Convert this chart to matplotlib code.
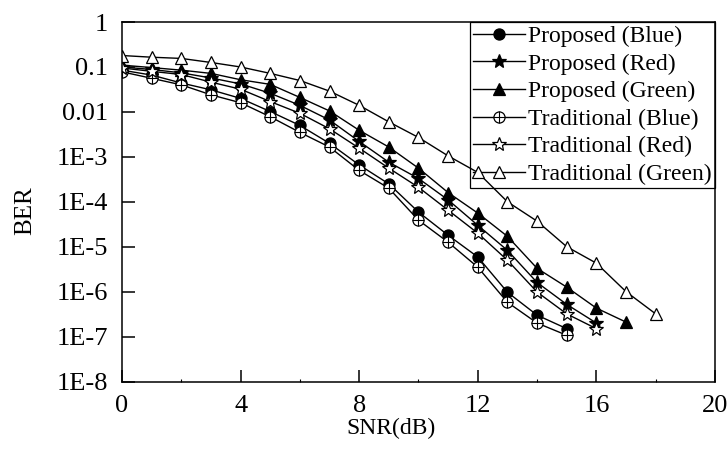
import numpy as np
import matplotlib
matplotlib.use('Agg')
import matplotlib.pyplot as plt
from matplotlib.legend_handler import HandlerTuple

plt.rcParams['font.family'] = ['Liberation Serif', 'DejaVu Serif']

# BER curves
snr_pb = np.arange(0, 16)
ber_pb = [0.085, 0.066, 0.044, 0.031, 0.02, 0.0102, 5.0e-3, 2.0e-3, 6.6e-4, 2.5e-4,
          5.9e-5, 1.8e-5, 5.9e-6, 9.7e-7, 3.0e-7, 1.5e-7]

snr_pr = np.arange(0, 17)
ber_pr = [0.1, 0.088, 0.074, 0.057, 0.042, 0.026, 0.014, 6.6e-3, 2.2e-3, 7.6e-4,
          3.3e-4, 1.1e-4, 3.0e-5, 8.3e-6, 1.6e-6, 5.2e-7, 2.0e-7]

snr_pg = np.arange(0, 18)
ber_pg = [0.11, 0.097, 0.085, 0.072, 0.052, 0.041, 0.021, 0.0105, 3.9e-3, 1.65e-3,
          5.6e-4, 1.6e-4, 5.6e-5, 1.7e-5, 3.3e-6, 1.26e-6, 4.3e-7, 2.1e-7]

snr_tb = np.arange(0, 16)
ber_tb = [0.078, 0.056, 0.04, 0.024, 0.016, 7.8e-3, 3.5e-3, 1.65e-3, 5.0e-4, 2.0e-4,
          3.9e-5, 1.26e-5, 3.5e-6, 5.8e-7, 2.0e-7, 1.07e-7]

snr_tr = np.arange(0, 17)
ber_tr = [0.095, 0.08, 0.068, 0.046, 0.032, 0.017, 9.3e-3, 4.2e-3, 1.56e-3, 5.6e-4,
          2.1e-4, 6.5e-5, 2.0e-5, 5.0e-6, 9.8e-7, 3.2e-7, 1.5e-7]

snr_tg = np.arange(0, 19)
ber_tg = [0.18, 0.165, 0.155, 0.126, 0.1, 0.072, 0.05, 0.029, 0.014, 6.0e-3,
          2.7e-3, 1.05e-3, 4.5e-4, 1.0e-4, 3.7e-5, 1.0e-5, 4.3e-6, 1.0e-6, 3.2e-7]

labels = ['Proposed (Blue)', 'Proposed (Red)', 'Proposed (Green)',
          'Traditional (Blue)', 'Traditional (Red)', 'Traditional (Green)']
ytick_vals = [1, 0.1, 0.01, 1e-3, 1e-4, 1e-5, 1e-6, 1e-7, 1e-8]
ytick_text = ['1', '0.1', '0.01', '1E-3', '1E-4', '1E-5', '1E-6', '1E-7', '1E-8']

fig = plt.figure(figsize=(7.28, 4.5), dpi=100)
ax = fig.add_axes([0.1676, 0.1522, 0.8145, 0.7988])

kw = dict(color='black', lw=1.0, mec='black', mew=0.9)
h1, = ax.plot(snr_pb, ber_pb, marker='o', ms=8, mfc='black', **kw)
h2, = ax.plot(snr_pr, ber_pr, marker='*', ms=10.5, mfc='black', **kw)
h3, = ax.plot(snr_pg, ber_pg, marker='^', ms=9, mfc='black', **kw)
h4, = ax.plot(snr_tb, ber_tb, marker='o', ms=8, mfc='white', **kw)
h4b, = ax.plot(snr_tb, ber_tb, marker='+', ms=8, ls='none', mec='black', mew=0.8)
h5, = ax.plot(snr_tr, ber_tr, marker='*', ms=10.5, mfc='white', **kw)
h6, = ax.plot(snr_tg, ber_tg, marker='^', ms=9, mfc='white', **kw)

ax.set_yscale('log')
ax.set_ylim(1e-8, 1)
ax.set_xlim(0, 20)
ax.set_yticks(ytick_vals)
ax.set_yticklabels(ytick_text)
ax.minorticks_off()
ax.set_xticks([0, 4, 8, 12, 16, 20])
ax.set_xticks([2, 6, 10, 14, 18], minor=True)
ax.tick_params(axis='both', which='major', direction='in', length=9, width=1.1,
               labelsize=19, top=False, right=False)
ax.tick_params(axis='y', which='major', pad=10)
ax.tick_params(axis='x', which='major', pad=10)
ax.tick_params(axis='x', which='minor', direction='in', length=2.5, width=0.8)
for s in ax.spines.values():
    s.set_linewidth(1.1)

ax.set_xlabel('SNR(dB)', fontsize=17)
ax.set_ylabel('BER', fontsize=18)
ax.xaxis.set_label_coords(0.454, -0.1)
ax.yaxis.set_label_coords(-0.145, 0.475)

leg = ax.legend([h1, h2, h3, (h4, h4b), h5, h6], labels,
                handler_map={tuple: HandlerTuple(ndivide=1)},
                loc='upper right', bbox_to_anchor=(1.0, 1.0), fontsize=17,
                frameon=True, fancybox=False, edgecolor='black', framealpha=1,
                borderpad=0.15, labelspacing=0.255, handlelength=2.2,
                handletextpad=0.1, borderaxespad=0)
leg.get_frame().set_linewidth(0.9)
leg.set_zorder(1)

fig.savefig('out.png', dpi=100)
